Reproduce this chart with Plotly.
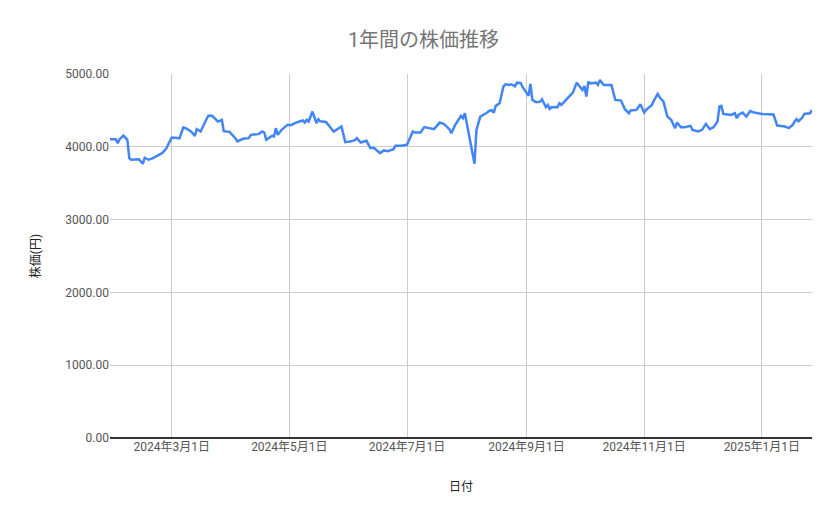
import plotly.graph_objects as go

LINE_COLOR = "#4285f4"

dates = [
    "2024-01-29", "2024-02-01", "2024-02-02", "2024-02-03", "2024-02-05", "2024-02-07",
    "2024-02-08", "2024-02-09", "2024-02-13", "2024-02-15", "2024-02-16", "2024-02-18",
    "2024-02-20", "2024-02-23", "2024-02-25", "2024-02-27", "2024-02-28", "2024-03-01",
    "2024-03-04", "2024-03-05", "2024-03-07", "2024-03-08", "2024-03-11", "2024-03-13",
    "2024-03-14", "2024-03-16", "2024-03-19", "2024-03-20", "2024-03-22", "2024-03-25",
    "2024-03-27", "2024-03-28", "2024-03-31", "2024-04-03", "2024-04-04", "2024-04-07",
    "2024-04-10", "2024-04-11", "2024-04-15", "2024-04-17", "2024-04-18", "2024-04-19",
    "2024-04-22", "2024-04-23", "2024-04-24", "2024-04-25", "2024-04-27", "2024-04-30",
    "2024-05-02", "2024-05-05", "2024-05-08", "2024-05-09", "2024-05-10", "2024-05-11",
    "2024-05-13", "2024-05-15", "2024-05-16", "2024-05-17", "2024-05-20", "2024-05-24",
    "2024-05-28", "2024-05-30", "2024-06-02", "2024-06-04", "2024-06-05", "2024-06-07",
    "2024-06-10", "2024-06-12", "2024-06-14", "2024-06-17", "2024-06-19", "2024-06-21",
    "2024-06-24", "2024-06-25", "2024-06-28", "2024-07-01", "2024-07-04", "2024-07-05",
    "2024-07-08", "2024-07-10", "2024-07-15", "2024-07-18", "2024-07-20", "2024-07-23",
    "2024-07-24", "2024-07-26", "2024-07-29", "2024-07-30", "2024-07-31", "2024-08-05",
    "2024-08-06", "2024-08-08", "2024-08-11", "2024-08-13", "2024-08-14", "2024-08-15",
    "2024-08-16", "2024-08-18", "2024-08-20", "2024-08-21", "2024-08-23", "2024-08-24",
    "2024-08-26", "2024-08-27", "2024-08-29", "2024-08-30", "2024-09-02", "2024-09-03",
    "2024-09-04", "2024-09-06", "2024-09-08", "2024-09-09", "2024-09-11", "2024-09-12",
    "2024-09-13", "2024-09-14", "2024-09-17", "2024-09-18", "2024-09-19", "2024-09-23",
    "2024-09-25", "2024-09-27", "2024-09-28", "2024-09-30", "2024-10-01", "2024-10-02",
    "2024-10-03", "2024-10-04", "2024-10-07", "2024-10-08", "2024-10-09", "2024-10-11",
    "2024-10-15", "2024-10-17", "2024-10-20", "2024-10-22", "2024-10-24", "2024-10-25",
    "2024-10-28", "2024-10-30", "2024-11-01", "2024-11-02", "2024-11-05", "2024-11-06",
    "2024-11-08", "2024-11-09", "2024-11-11", "2024-11-13", "2024-11-15", "2024-11-17",
    "2024-11-18", "2024-11-20", "2024-11-22", "2024-11-25", "2024-11-26", "2024-11-29",
    "2024-12-01", "2024-12-03", "2024-12-05", "2024-12-07", "2024-12-09", "2024-12-10",
    "2024-12-11", "2024-12-12", "2024-12-16", "2024-12-18", "2024-12-19", "2024-12-20",
    "2024-12-22", "2024-12-24", "2024-12-26", "2024-12-28", "2025-01-01", "2025-01-07",
    "2025-01-09", "2025-01-13", "2025-01-15", "2025-01-17", "2025-01-18", "2025-01-19",
    "2025-01-20", "2025-01-22", "2025-01-23", "2025-01-26", "2025-01-27",
]

prices = [
    4105, 4105, 4050, 4105, 4155, 4096,
    3845, 3822, 3830, 3767, 3850, 3822,
    3840, 3886, 3913, 3968, 4023, 4128,
    4120, 4115, 4265, 4258, 4210, 4150,
    4242, 4210, 4379, 4425, 4425, 4347,
    4370, 4215, 4205, 4119, 4073, 4110,
    4119, 4164, 4174, 4210, 4196, 4096,
    4150, 4142, 4256, 4164, 4233, 4301,
    4301, 4338, 4361, 4333, 4370, 4347,
    4484, 4324, 4379, 4350, 4340, 4210,
    4278, 4064, 4075, 4090, 4119, 4059,
    4082, 3982, 3982, 3913, 3950, 3940,
    3968, 4014, 4014, 4027, 4210, 4196,
    4196, 4270, 4242, 4333, 4315, 4242,
    4187, 4301, 4425, 4393, 4461, 3767,
    4233, 4415, 4461, 4498, 4500, 4470,
    4562, 4598, 4827, 4859, 4850, 4859,
    4832, 4881, 4875, 4818, 4699, 4863,
    4644, 4612, 4620, 4653, 4545, 4575,
    4521, 4545, 4543, 4598, 4575, 4690,
    4744, 4881, 4850, 4781, 4836, 4690,
    4895, 4870, 4881, 4850, 4918, 4850,
    4850, 4644, 4635, 4516, 4461, 4498,
    4507, 4584, 4470, 4507, 4575, 4634,
    4726, 4681, 4621, 4415, 4370, 4256,
    4333, 4270, 4270, 4288, 4233, 4210,
    4233, 4315, 4242, 4270, 4347, 4553,
    4562, 4452, 4438, 4461, 4393, 4440,
    4470, 4415, 4490, 4470, 4452, 4443,
    4292, 4278, 4256, 4301, 4347, 4379,
    4350, 4401, 4452, 4461, 4507,
]

tick_dates = ["2024-03-01", "2024-05-01", "2024-07-01", "2024-09-01", "2024-11-01", "2025-01-01"]
tick_labels = ["2024年3月1日", "2024年5月1日", "2024年7月1日", "2024年9月1日", "2024年11月1日", "2025年1月1日"]
y_ticks = [0, 1000, 2000, 3000, 4000, 5000]

fig = go.Figure()
fig.add_trace(go.Scatter(x=dates, y=prices, mode="lines",
                         line={"color": LINE_COLOR, "width": 2.5}, name="株価"))

# the page body has an 8px margin, so the figure is a bit smaller than the window
fig.update_layout(
    width=831, height=511,
    margin=dict(l=102, r=27, t=66, b=81),
    paper_bgcolor="white", plot_bgcolor="white",
    font=dict(family="Roboto, 'Noto Sans CJK JP', sans-serif", size=12, color="#555555"),
    showlegend=False,
    title=dict(text="1年間の株価推移", x=0.5, xanchor="center", y=0.938, yanchor="middle",
               font=dict(size=20, color="#757575")),
)
fig.update_xaxes(
    range=["2024-01-29", "2025-01-27"],
    tickvals=tick_dates, ticktext=tick_labels,
    showgrid=True, gridcolor="#cccccc", gridwidth=1,
    showline=False, zeroline=False, ticks="",
    title=dict(text="日付", font=dict(size=12, color="#222222"), standoff=29),
)
fig.update_yaxes(
    range=[0, 5000], tickvals=y_ticks, tickformat=".2f",
    showgrid=True, gridcolor="#cccccc", gridwidth=1,
    zeroline=True, zerolinecolor="#333333", zerolinewidth=1.5,
    showline=False, ticks="",
    title=dict(text="株価(円)", font=dict(size=12, color="#222222"), standoff=22),
)

fig.write_html("out.html")
